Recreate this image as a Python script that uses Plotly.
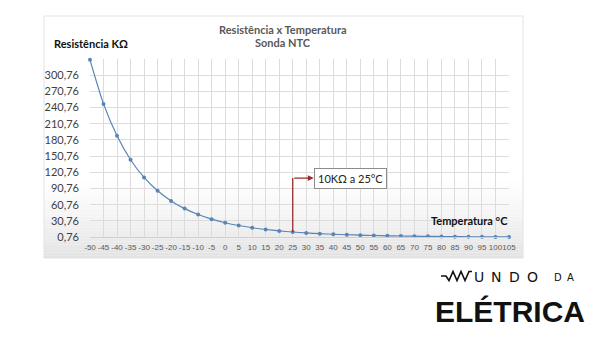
import plotly.graph_objects as go

# NTC 10K thermistor: resistance (kOhm) vs temperature (°C)
temperatures = [-50, -45, -40, -35, -30, -25, -20, -15, -10, -5, 0, 5, 10, 15, 20, 25,
                30, 35, 40, 45, 50, 55, 60, 65, 70, 75, 80, 85, 90, 95, 100, 105]
resistance_kohm = [329.5, 247.7, 188.5, 144.1, 111.3, 86.43, 67.77, 53.41, 42.47, 33.90,
                   27.28, 22.05, 17.96, 14.69, 12.09, 10.00, 8.313, 6.940, 5.827, 4.911,
                   4.160, 3.536, 3.020, 2.588, 2.228, 1.924, 1.668, 1.451, 1.266, 1.108,
                   0.9731, 0.8572]
y_ticks = [0.76, 30.76, 60.76, 90.76, 120.76, 150.76, 180.76, 210.76, 240.76, 270.76, 300.76]
y_tick_text = [f"{v:.2f}".replace(".", ",") for v in y_ticks]
x_labels = [str(t) for t in temperatures]

W, H = 600, 337
L, R, T, B = 90, 91, 59, 100
plot_w, plot_h = W - L - R, H - T - B


def px(x):
    return (x - L) / plot_w


def py(y):
    return (H - B - y) / plot_h


fig = go.Figure()

fig.add_trace(go.Scatter(
    x=list(range(len(temperatures))), y=resistance_kohm,
    mode="lines+markers",
    line=dict(color="#5a84b4", width=1.2, shape="spline", smoothing=0.6),
    marker=dict(color="#5a84b4", size=4),
    cliponaxis=False, hoverinfo="skip",
))

shapes = []
# chart frame gradient (white to light grey toward the bottom)
n_bands = 30
y_start, y_end = 175, 258
for i in range(n_bands):
    y0 = y_start + (y_end - y_start) * i / n_bands
    y1 = y_start + (y_end - y_start) * (i + 1) / n_bands
    t = (i + 0.5) / n_bands
    g = int(round(255 - (255 - 226) * t ** 1.4))
    shapes.append(dict(type="rect", xref="paper", yref="paper", layer="below",
                       x0=px(44), x1=px(523), y0=py(y1), y1=py(y0),
                       fillcolor=f"rgb({g},{g},{g})", line=dict(width=0)))
# chart frame border
shapes.append(dict(type="rect", xref="paper", yref="paper", layer="below",
                   x0=px(44), x1=px(523), y0=py(258), y1=py(16),
                   fillcolor="rgba(0,0,0,0)", line=dict(color="#e3e3e3", width=1)))

# elbow callout line from the 25 °C point
i25 = temperatures.index(25)
callout_y = 110
shapes.append(dict(type="line", xref="x", yref="y", x0=i25, x1=i25,
                   y0=resistance_kohm[i25], y1=callout_y,
                   line=dict(color="#9b2b2b", width=1.3)))

# logo zigzag (resistor symbol)
zig = [(441, 276), (446, 276), (449, 280.5), (453, 271.5), (457, 280.5),
       (461, 271.5), (465, 280.5), (469, 271.5), (472, 271.5)]
path = "M " + " L ".join(f"{px(x):.5f},{py(y):.5f}" for x, y in zig)
shapes.append(dict(type="path", xref="paper", yref="paper", path=path,
                   line=dict(color="#111111", width=1.6)))

annotations = [
    dict(text="<b>Resistência x Temperatura</b>", x=px(283), y=py(29), xref="paper", yref="paper",
         showarrow=False, font=dict(size=11, color="#595959"), xanchor="center", yanchor="middle"),
    dict(text="<b>Sonda NTC</b>", x=px(283), y=py(42), xref="paper", yref="paper",
         showarrow=False, font=dict(size=11, color="#595959"), xanchor="center", yanchor="middle"),
    dict(text="<b>Resistência KΩ</b>", x=px(52), y=py(43), xref="paper", yref="paper",
         showarrow=False, font=dict(size=11, color="#111111"), xanchor="left", yanchor="middle"),
    dict(text="<b>Temperatura °C</b>", x=px(510), y=py(220), xref="paper", yref="paper",
         showarrow=False, font=dict(size=11, color="#111111"), xanchor="right", yanchor="middle"),
    # callout arrow and label
    dict(x=16.55, y=callout_y, ax=i25, ay=callout_y, xref="x", yref="y", axref="x", ayref="y",
         text="", showarrow=True, arrowhead=2, arrowsize=0.9, arrowwidth=1.3, arrowcolor="#9b2b2b"),
    dict(text="10KΩ a 25°C", x=16.6, y=callout_y, xref="x", yref="y", showarrow=False,
         xanchor="left", yanchor="middle", font=dict(size=11, color="#222222"),
         bgcolor="white", bordercolor="#8c8c8c", borderwidth=1, borderpad=3),
    dict(text="<b>ELÉTRICA</b>", x=px(510.5), y=py(311), xref="paper", yref="paper", showarrow=False,
         xanchor="center", yanchor="middle", font=dict(size=30, color="#111111", family="Liberation Sans")),
]

# logo wordmark, spaced letters
for ch, cx in zip("UNDO", [479, 496, 514, 532]):
    annotations.append(dict(text=ch, x=px(cx), y=py(276.5), xref="paper", yref="paper",
                            showarrow=False, xanchor="center", yanchor="middle",
                            font=dict(size=14, color="#111111", family="DejaVu Sans")))
for ch, cx in zip("DA", [558, 570]):
    annotations.append(dict(text=ch, x=px(cx), y=py(277.5), xref="paper", yref="paper",
                            showarrow=False, xanchor="center", yanchor="middle",
                            font=dict(size=10, color="#111111", family="DejaVu Sans")))

fig.update_layout(
    width=W, height=H,
    margin=dict(l=L, r=R, t=T, b=B, pad=0),
    paper_bgcolor="white", plot_bgcolor="rgba(0,0,0,0)",
    showlegend=False,
    font=dict(family="Lato, 'Open Sans', sans-serif"),
    shapes=shapes, annotations=annotations,
)
fig.update_xaxes(
    range=[0, len(temperatures) - 1],
    tickmode="array", tickvals=list(range(len(temperatures))), ticktext=x_labels,
    tickangle=0,
    tickfont=dict(size=8, color="#595959", family="Liberation Sans"),
    ticks="", ticklabelstandoff=2,
    showgrid=True, gridcolor="#dcdcdc", gridwidth=1,
    showline=True, linecolor="#cfcfcf", linewidth=1, zeroline=False, fixedrange=True,
)
fig.update_yaxes(
    range=[0.76, 331],
    tickmode="array", tickvals=y_ticks, ticktext=y_tick_text,
    tickfont=dict(size=11, color="#404040"), ticks="", ticklabelstandoff=10,
    showgrid=True, gridcolor="#dcdcdc", gridwidth=1,
    showline=False, zeroline=False, fixedrange=True,
)

fig.write_html("out.html", config=dict(displayModeBar=False))
